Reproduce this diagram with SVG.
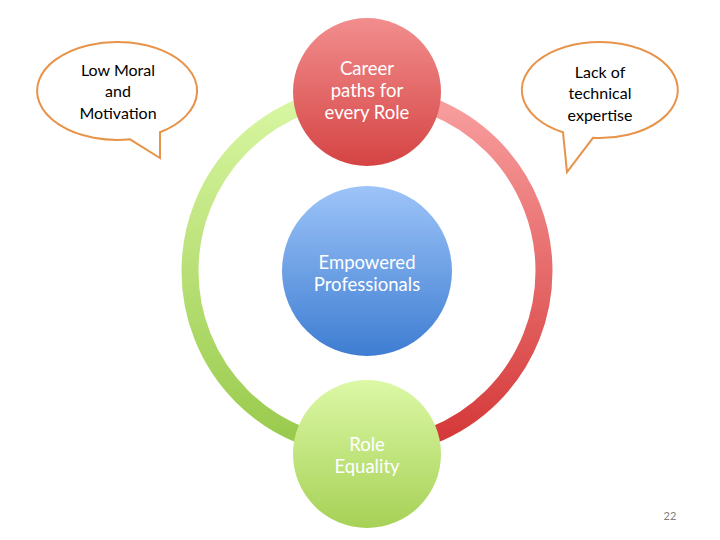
<svg xmlns="http://www.w3.org/2000/svg" width="720" height="540" viewBox="0 0 720 540">
<defs>
<linearGradient id="gRingL" gradientUnits="userSpaceOnUse" x1="0" y1="94" x2="0" y2="448"><stop offset="0" stop-color="#d9f7a3"/><stop offset="1" stop-color="#98c94a"/></linearGradient>
<linearGradient id="gRingR" gradientUnits="userSpaceOnUse" x1="0" y1="94" x2="0" y2="448"><stop offset="0" stop-color="#f9a0a0"/><stop offset="1" stop-color="#d43636"/></linearGradient>
<linearGradient id="gRed" x1="0" y1="0" x2="0" y2="1"><stop offset="0" stop-color="#f28e8e"/><stop offset="1" stop-color="#d54444"/></linearGradient>
<linearGradient id="gGreen" x1="0" y1="0" x2="0" y2="1"><stop offset="0" stop-color="#dcf8a6"/><stop offset="1" stop-color="#a6d156"/></linearGradient>
<linearGradient id="gBlue" x1="0" y1="0" x2="0" y2="1"><stop offset="0" stop-color="#9dc4f8"/><stop offset="1" stop-color="#3e7dd2"/></linearGradient>
</defs>
<style>
.lbl{font-family:Lato,"Liberation Sans",sans-serif;font-size:18.5px;fill:#ffffff;text-anchor:middle}
.blb{font-family:Lato,"Liberation Sans",sans-serif;font-size:16px;fill:#000000;text-anchor:middle}
.bubble{fill:#ffffff;stroke:#e8934a;stroke-width:2;stroke-linejoin:miter}
.ring{fill:none;stroke-width:17}
</style>
<rect width="720" height="540" fill="#ffffff"/>
<g id="connectors">
<path class="ring" stroke="url(#gRingL)" d="M367,94 A177,177 0 0 0 367,448"/>
<path class="ring" stroke="url(#gRingR)" d="M367,94 A177,177 0 0 1 367,448"/>
</g>
<g id="bubble-left">
<path class="bubble" d="M130,139.3 A80,49 0 1 1 160,132.3 L160,158 Z"/>
<text class="blb" x="118" y="76">Low Moral</text>
<text class="blb" x="118" y="97">and</text>
<text class="blb" x="118" y="119">Motivation</text>
</g>
<g id="bubble-right">
<path class="bubble" d="M593,137.8 A78,48 0 1 0 563,132.3 L567,172 Z"/>
<text class="blb" x="600" y="78">Lack of</text>
<text class="blb" x="600" y="99">technical</text>
<text class="blb" x="600" y="121">expertise</text>
</g>
<g id="node-career">
<circle cx="367" cy="92" r="74" fill="url(#gRed)"/>
<text class="lbl" x="367" y="75">Career</text>
<text class="lbl" x="367" y="97">paths for</text>
<text class="lbl" x="367" y="119">every Role</text>
</g>
<g id="node-center">
<circle cx="367" cy="271" r="85" fill="url(#gBlue)"/>
<text class="lbl" x="367" y="269">Empowered</text>
<text class="lbl" x="367" y="291">Professionals</text>
</g>
<g id="node-role">
<circle cx="367" cy="454" r="74" fill="url(#gGreen)"/>
<text class="lbl" x="367" y="451">Role</text>
<text class="lbl" x="367" y="473">Equality</text>
</g>
<text x="670" y="520" style="font-family:Lato,'Liberation Sans',sans-serif;font-size:11px;fill:#808080;text-anchor:middle">22</text>
</svg>
